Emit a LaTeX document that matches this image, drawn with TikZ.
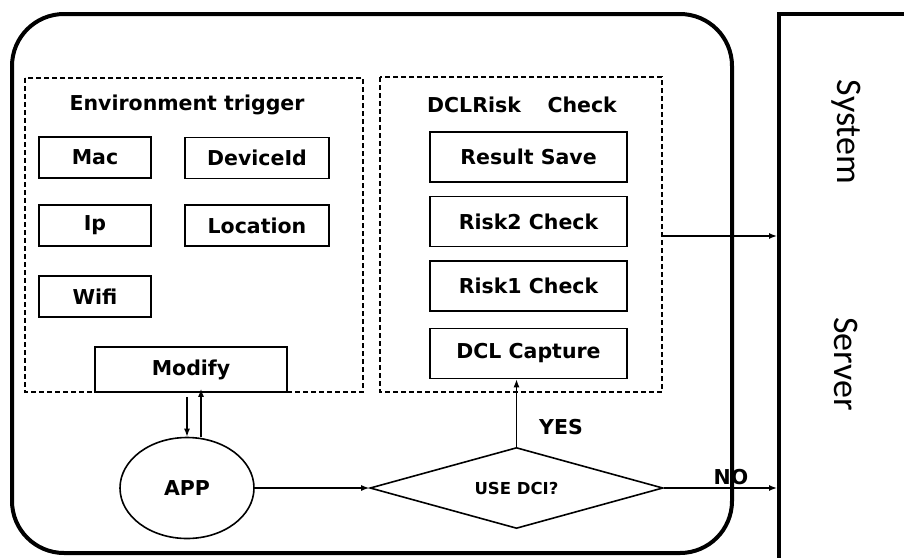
\documentclass[tikz,border=0pt]{standalone}
\usepackage{fontspec}
\setmainfont{DejaVu Sans}
\newfontfamily\sysfont{Carlito}
\usetikzlibrary{arrows.meta,shapes.geometric}
\tikzset{
  item/.style={draw,line width=1.6pt,font=\bfseries\fontsize{20.5}{24}\selectfont,minimum height=41pt,inner sep=0pt},
  dbox/.style={draw,line width=1.8pt,dash pattern=on 5pt off 3pt},
  title/.style={font=\bfseries\fontsize{20.5}{24}\selectfont,inner sep=0pt},
  conn/.style={line width=1.4pt,-{Latex[length=8pt,width=6pt]}},
  bigfont/.style={font=\sysfont\fontsize{36}{40}\selectfont,inner sep=0pt}
}
\begin{document}
\begin{tikzpicture}[x=1pt,y=-1pt]
\useasboundingbox (0,0) rectangle (904,557);
% outer rounded frame
\draw[line width=4pt,rounded corners=52pt] (12,14) rectangle (732,553);
% server frame
\draw[line width=4pt] (779,560) -- (779,14) -- (906,14);
\node[bigfont,rotate=-90] (sys) at (846,132) {System};
\node[bigfont,rotate=-90] (srv) at (846,364) {Server};
\coordinate (srvA) at (777,236);
\coordinate (srvB) at (777,488);
% dashed containers
\draw[dbox] (25,78) rectangle (363,392);
\draw[dbox] (380,77) rectangle (662,392);
\coordinate (rightedge) at (662,236);
\node[title] (envt) at (187,105) {Environment trigger};
\node[title] (dclt) at (522,105) {DCLRisk\hspace{1.3em}Check};
% left items
\node[item,minimum width=112pt] (mac) at (95,157.5) {Mac};
\node[item,minimum width=144pt] (dev) at (257,158) {DeviceId};
\node[item,minimum width=112pt] (ip) at (95,225.5) {Ip};
\node[item,minimum width=144pt] (loc) at (257,225.5) {Location};
\node[item,minimum width=112pt] (wifi) at (95,296.5) {Wifi};
\node[item,minimum width=192pt,minimum height=45pt,fill=white] (mod) at (191,369.5) {Modify};
% right items
\node[item,minimum width=197pt,minimum height=50pt] (res) at (528.5,157) {Result Save};
\node[item,minimum width=197pt,minimum height=50pt] (r2) at (528.5,221.5) {Risk2 Check};
\node[item,minimum width=197pt,minimum height=50pt] (r1) at (528.5,286) {Risk1 Check};
\node[item,minimum width=197pt,minimum height=50pt] (cap) at (528.5,353.5) {DCL Capture};
% app and decision
\node[draw,ellipse,line width=1.6pt,minimum width=134pt,minimum height=101pt,inner sep=0pt,font=\bfseries\fontsize{20.5}{24}\selectfont] (app) at (187,488) {APP};
\node[draw,diamond,aspect=3.6,line width=1.6pt,minimum width=293pt,minimum height=81pt,inner sep=0pt,font=\bfseries\fontsize{16.5}{19}\selectfont] (dec) at (516.5,488) {USE DCI?};
% connectors
\draw[conn] (mod.south -| 187,0) ++(0,4) -- (app.north -| 187,0);
\draw[conn] (app.north -| 201,0) -- ([yshift=4pt]mod.south -| 201,0);
\draw[conn] (app.east) -- (dec.west);
\draw[conn] (dec.north) -- (cap.south -| dec.north);
\node[title] (yes) at (561,427) {YES};
\draw[conn] (dec.east) -- (srvB);
\node[title] (no) at (731,477) {NO};
\draw[conn] (rightedge) -- (srvA);
\end{tikzpicture}
\end{document}
